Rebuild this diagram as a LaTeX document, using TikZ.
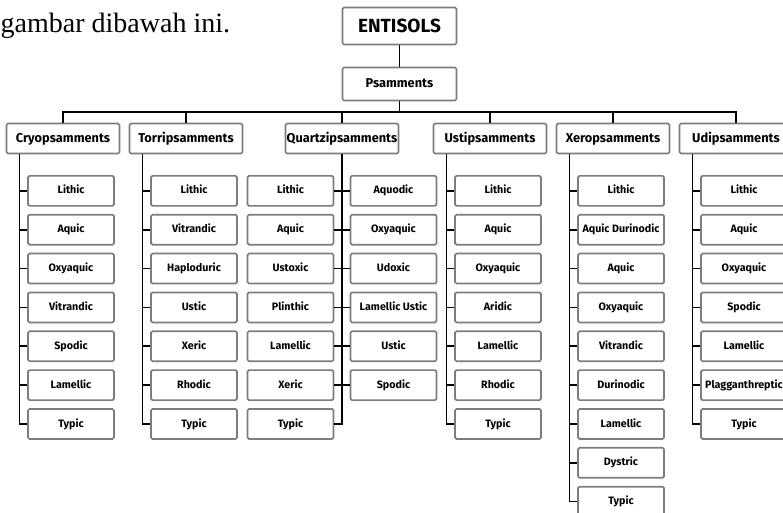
\documentclass[tikz,border=0pt]{standalone}
\usepackage{fontspec}
\setmainfont{Liberation Serif}
\newfontfamily\boxfont{Fira Sans}
\definecolor{boxgray}{RGB}{125,125,125}
\newcommand{\soilcol}[3]{% #1 name, #2 x, #3 label
  \node[midbox] (#1) at (#2,138.5) {#3};
  \coordinate (#1top) at ([xshift=-43.5pt]#1.south);
  \draw[link] (bus) -| (#1.north);
}
\newcommand{\soilleaves}[2]{% #1 name, #2 leaves
  \foreach \t [count=\k from 0] in {#2} {
    \node[leaf] (#1\k) at ([xshift=51.5pt,yshift={-36.5pt-38.85pt*\k}]#1top) {\t};
    \draw[link] (#1top) |- (#1\k.west);
  }
}
\begin{document}
\begin{tikzpicture}[x=1pt,y=-1pt,
  box/.style={draw=boxgray,line width=1.7pt,rounded corners=1.5pt,fill=white,inner sep=0pt,align=center},
  topbox/.style={box,minimum width=114pt},
  midbox/.style={box,minimum width=113pt,minimum height=30pt,text height=8.7pt,text depth=1.3pt,font=\boxfont\bfseries\fontsize{12.8}{14}\selectfont},
  leaf/.style={box,minimum width=86pt,minimum height=30pt,text height=7.3pt,text depth=1.1pt,font=\boxfont\bfseries\fontsize{10.7}{12}\selectfont},
  link/.style={line width=1.6pt,black,line join=miter}]
\useasboundingbox (0,0) rectangle (783,513);
\clip (0,0) rectangle (783,513);
\fill[white] (0,0) rectangle (783,513);

\node[anchor=base west,inner sep=0pt,font=\fontsize{28}{30}\selectfont] (txt) at (0.5,33) {gambar dibawah ini.};

\node[topbox,minimum height=37pt,text height=13.1pt,text depth=0pt,font=\boxfont\bfseries\fontsize{19}{21}\selectfont] (ent) at (399.5,26) {ENTISOLS};
\node[topbox,minimum height=33pt,text height=8.7pt,text depth=1.3pt,font=\boxfont\bfseries\fontsize{12.8}{14}\selectfont] (psa) at (399.5,84) {Psamments};
\draw[link] (ent.south) -- (psa.north);
\coordinate (bus) at (399.5,112);
\draw[link] (psa.south) -- (bus);

\soilcol{cryo}{63}{Cryopsamments}
\soilcol{torri}{186}{Torripsamments}
\soilcol{usti}{490}{Ustipsamments}
\soilcol{xero}{613}{Xeropsamments}
\soilcol{udi}{736}{Udipsamments}

\soilleaves{cryo}{Lithic,Aquic,Oxyaquic,Vitrandic,Spodic,Lamellic,Typic}
\soilleaves{torri}{Lithic,Vitrandic,Haploduric,Ustic,Xeric,Rhodic,Typic}
\soilleaves{usti}{Lithic,Aquic,Oxyaquic,Aridic,Lamellic,Rhodic,Typic}
\soilleaves{xero}{Lithic,Aquic Durinodic,Aquic,Oxyaquic,Vitrandic,Durinodic,Lamellic,Dystric,Typic}
\soilleaves{udi}{Lithic,Aquic,Oxyaquic,Spodic,Lamellic,Plagganthreptic,Typic}

% Quartzipsamments with two columns
\node[midbox] (quartz) at (342,138.5) {Quartzipsamments};
\draw[link] (bus) -| (quartz.north);
\foreach \t [count=\k from 0] in {Lithic,Aquic,Ustoxic,Plinthic,Lamellic,Xeric,Typic} {
  \node[leaf] (ql\k) at ([xshift=-51.5pt,yshift={-36.5pt-38.85pt*\k}]quartz.south) {\t};
  \draw[link] (quartz.south) |- (ql\k.east);
}
\foreach \t [count=\k from 0] in {Aquodic,Oxyaquic,Udoxic,Lamellic Ustic,Ustic,Spodic} {
  \node[leaf] (qr\k) at ([xshift=51.5pt,yshift={-36.5pt-38.85pt*\k}]quartz.south) {\t};
  \draw[link] (quartz.south) |- (qr\k.west);
}
\end{tikzpicture}
\end{document}
